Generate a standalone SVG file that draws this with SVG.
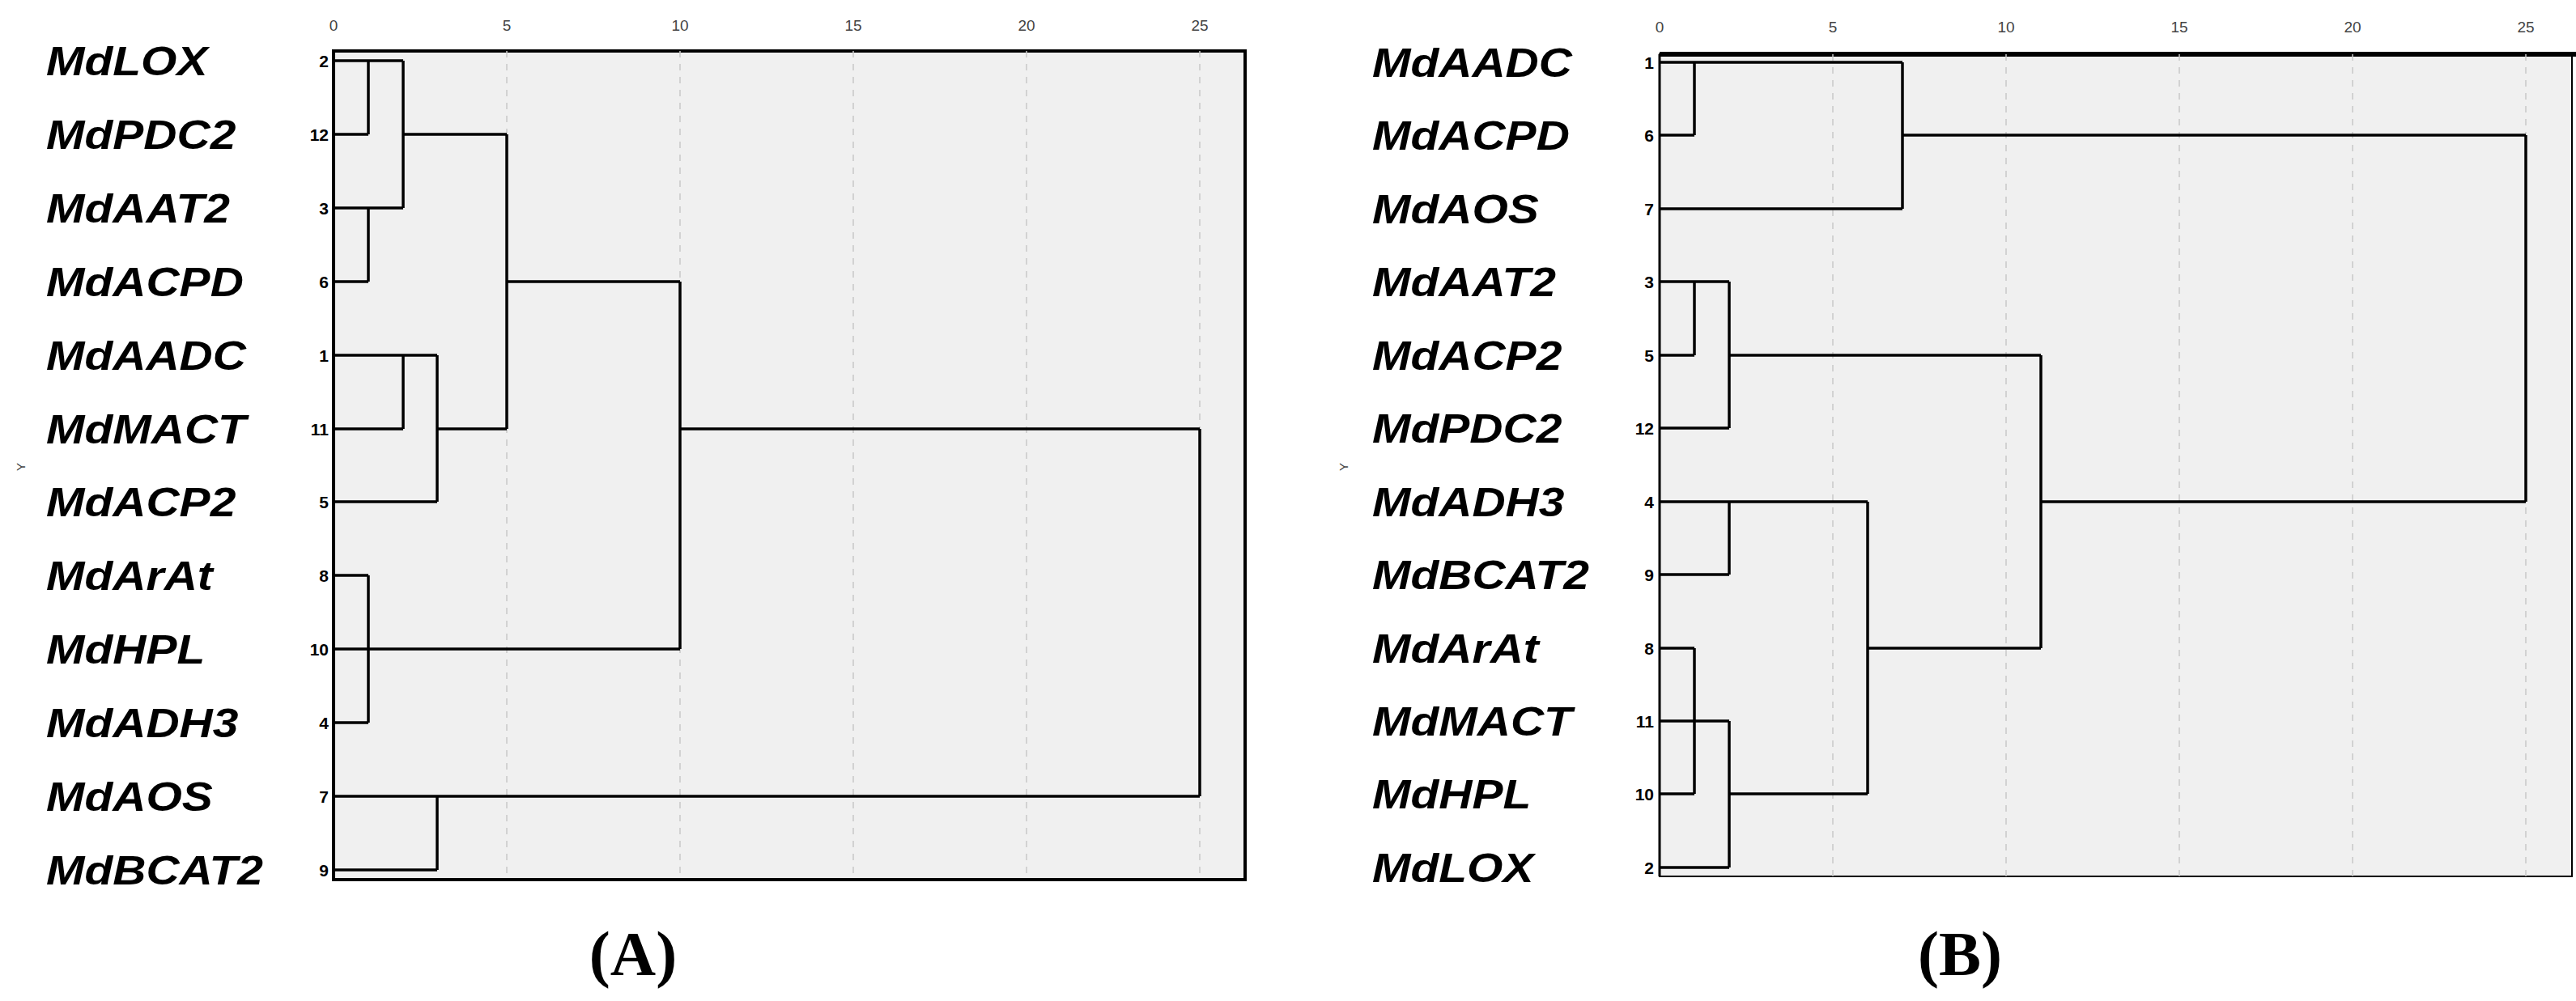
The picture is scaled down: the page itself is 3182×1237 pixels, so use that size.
<svg xmlns="http://www.w3.org/2000/svg" width="3182" height="1237" viewBox="0 0 3182 1237">
<style>
.box{fill:#f0f0f0;stroke:#000;stroke-width:4}
.grid{stroke:#c8c8c8;stroke-width:1.5;stroke-dasharray:8 8}
.tree{fill:none;stroke:#000;stroke-width:3.5}
.lab{font-family:"Liberation Sans",Arial,sans-serif;font-weight:bold;font-style:italic;font-size:50px;fill:#000}
.num{font-family:"Liberation Sans",Arial,sans-serif;font-weight:bold;font-size:21px;fill:#000;text-anchor:end}
.tick{font-family:"Liberation Sans",Arial,sans-serif;font-size:19px;fill:#444;text-anchor:middle}
.cap{font-family:"Liberation Serif","Times New Roman",serif;font-weight:bold;font-size:78px;text-anchor:middle}
.ax{font-family:"Liberation Sans",Arial,sans-serif;font-size:15px;fill:#444;text-anchor:middle}
</style>
<rect width="3182" height="1237" fill="#fff"/>
<g id="panelA">
<rect class="box" x="412" y="63" width="1126" height="1024"/>
<g class="grid"><path d="M626 63V1087M840 63V1087M1054 63V1087M1268 63V1087M1482 63V1087"/></g>
<g class="tick"><text x="412" y="38">0</text><text x="626" y="38">5</text><text x="840" y="38">10</text><text x="1054" y="38">15</text><text x="1268" y="38">20</text><text x="1482" y="38">25</text></g>
<g transform="translate(57,0) scale(1.14,1)" class="lab">
<text x="0" y="93">MdLOX</text><text x="0" y="184">MdPDC2</text><text x="0" y="275">MdAAT2</text><text x="0" y="366">MdACPD</text><text x="0" y="457">MdAADC</text><text x="0" y="548">MdMACT</text><text x="0" y="638">MdACP2</text><text x="0" y="729">MdArAt</text><text x="0" y="820">MdHPL</text><text x="0" y="911">MdADH3</text><text x="0" y="1002">MdAOS</text><text x="0" y="1093">MdBCAT2</text>
</g>
<g class="num"><text x="406" y="83">2</text><text x="406" y="174">12</text><text x="406" y="265">3</text><text x="406" y="356">6</text><text x="406" y="447">1</text><text x="406" y="538">11</text><text x="406" y="628">5</text><text x="406" y="719">8</text><text x="406" y="810">10</text><text x="406" y="901">4</text><text x="406" y="992">7</text><text x="406" y="1083">9</text></g>
<text class="ax" transform="translate(31,577) rotate(-90)">Y</text>
<text class="cap" x="782" y="1205">(A)</text>
</g>
<g id="panelB">
<rect class="box" x="2050" y="67" width="1127" height="1016" style="stroke-width:2"/>
<path d="M2050 67H3182" stroke="#000" stroke-width="6"/>
<path d="M2050 67V1083" stroke="#000" stroke-width="3"/>
<g class="grid"><path d="M2264 67V1083M2478 67V1083M2692 67V1083M2906 67V1083M3120 67V1083"/></g>
<g class="tick"><text x="2050" y="40">0</text><text x="2264" y="40">5</text><text x="2478" y="40">10</text><text x="2692" y="40">15</text><text x="2906" y="40">20</text><text x="3120" y="40">25</text></g>
<g transform="translate(1695,0) scale(1.14,1)" class="lab">
<text x="0" y="95">MdAADC</text><text x="0" y="185">MdACPD</text><text x="0" y="276">MdAOS</text><text x="0" y="366">MdAAT2</text><text x="0" y="457">MdACP2</text><text x="0" y="547">MdPDC2</text><text x="0" y="638">MdADH3</text><text x="0" y="728">MdBCAT2</text><text x="0" y="819">MdArAt</text><text x="0" y="909">MdMACT</text><text x="0" y="999">MdHPL</text><text x="0" y="1090">MdLOX</text>
</g>
<g class="num"><text x="2043" y="85">1</text><text x="2043" y="175">6</text><text x="2043" y="266">7</text><text x="2043" y="356">3</text><text x="2043" y="447">5</text><text x="2043" y="537">12</text><text x="2043" y="628">4</text><text x="2043" y="718">9</text><text x="2043" y="809">8</text><text x="2043" y="899">11</text><text x="2043" y="989">10</text><text x="2043" y="1080">2</text></g>
<text class="ax" transform="translate(1665,577) rotate(-90)">Y</text>
<text class="cap" x="2421" y="1205">(B)</text>
</g>
<g id="connectors" class="tree">
<path d="M412 75H498 M412 166H455 M455 75V166 M412 257H498 M412 348H455 M455 257V348 M498 75V257 M498 166H626 M626 166V530 M626 348H840 M412 439H540 M412 530H498 M498 439V530 M540 530H626 M540 439V620 M412 620H540 M840 348V802 M412 802H840 M412 711H455 M412 893H455 M455 711V893 M840 530H1482 M1482 530V984 M412 984H1482 M412 1075H540 M540 984V1075"/>
<path d="M2050 77H2350 M2050 167H2093 M2093 77V167 M2050 258H2350 M2350 77V258 M2350 167H3120 M3120 167V620 M2050 348H2136 M2050 439H2093 M2093 348V439 M2050 529H2136 M2136 348V529 M2136 439H2521 M2521 439V801 M2050 620H2307 M2050 710H2136 M2136 620V710 M2307 620V981 M2050 801H2093 M2307 801H2521 M2050 891H2136 M2050 981H2093 M2093 801V981 M2136 891V1072 M2050 1072H2136 M2136 981H2307 M2521 620H3120"/>
</g>
</svg>
